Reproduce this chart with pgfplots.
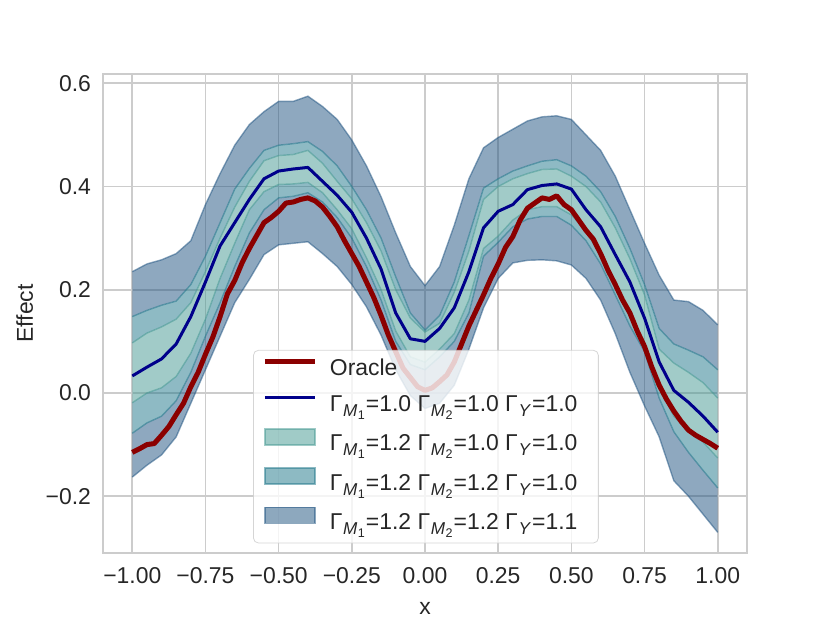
\documentclass[border=0pt]{standalone}
\usepackage{fontspec}
\setmainfont{Liberation Sans}
\usepackage{pgfplots}
\usepackage{pgfplotstable}
\pgfplotsset{compat=1.18}
\usepgfplotslibrary{fillbetween}

\definecolor{cOut}{HTML}{1D517F}
\definecolor{cMid}{HTML}{1D7589}
\definecolor{cIn}{HTML}{439791}
\definecolor{gridc}{HTML}{CCCCCC}
\definecolor{txt}{HTML}{262626}
\definecolor{oracle}{HTML}{8B0000}
\definecolor{bline}{HTML}{00008B}

\newcommand{\GM}[1]{Γ\kern0.03em\raisebox{-0.22em}{\fontsize{8.6}{9}\selectfont\textit{M}\kern0.02em\raisebox{-0.18em}{\fontsize{6.3}{7}\selectfont #1}}\kern0.05em}
\newcommand{\GY}{Γ\kern0.03em\raisebox{-0.22em}{\fontsize{8.6}{9}\selectfont\textit{Y}}\kern0.05em}

\pgfplotstableread{
x o
-1.000 -0.115
-0.975 -0.108
-0.950 -0.100
-0.925 -0.098
-0.900 -0.082
-0.875 -0.065
-0.850 -0.042
-0.825 -0.020
-0.800 0.012
-0.775 0.040
-0.750 0.075
-0.725 0.108
-0.700 0.148
-0.675 0.192
-0.650 0.218
-0.625 0.252
-0.600 0.280
-0.575 0.305
-0.550 0.330
-0.525 0.340
-0.500 0.352
-0.475 0.368
-0.450 0.370
-0.425 0.375
-0.400 0.378
-0.375 0.372
-0.350 0.360
-0.325 0.342
-0.300 0.322
-0.275 0.295
-0.250 0.270
-0.225 0.245
-0.200 0.215
-0.175 0.185
-0.150 0.150
-0.125 0.112
-0.100 0.080
-0.075 0.048
-0.050 0.030
-0.025 0.012
0.000 0.005
0.025 0.010
0.050 0.022
0.075 0.035
0.100 0.060
0.125 0.095
0.150 0.130
0.175 0.160
0.200 0.190
0.225 0.222
0.250 0.250
0.275 0.282
0.300 0.303
0.325 0.335
0.350 0.358
0.375 0.368
0.400 0.378
0.425 0.375
0.450 0.382
0.475 0.365
0.500 0.355
0.525 0.335
0.550 0.315
0.575 0.298
0.600 0.270
0.625 0.238
0.650 0.210
0.675 0.180
0.700 0.155
0.725 0.120
0.750 0.090
0.775 0.050
0.800 0.015
0.825 -0.012
0.850 -0.035
0.875 -0.055
0.900 -0.072
0.925 -0.082
0.950 -0.090
0.975 -0.098
1.000 -0.107
}\oracledata

\pgfplotstableread{
x b ou ol mu ml iu il
-1.00 0.033 0.235 -0.163 0.148 -0.078 0.097 -0.019
-0.95 0.050 0.250 -0.140 0.160 -0.058 0.116 0.000
-0.90 0.066 0.258 -0.120 0.170 -0.045 0.128 0.010
-0.85 0.095 0.270 -0.085 0.178 -0.015 0.143 0.032
-0.80 0.148 0.295 -0.020 0.210 0.040 0.175 0.077
-0.75 0.215 0.365 0.045 0.265 0.110 0.235 0.143
-0.70 0.285 0.425 0.110 0.330 0.175 0.300 0.222
-0.65 0.330 0.480 0.175 0.395 0.245 0.360 0.290
-0.60 0.375 0.520 0.220 0.435 0.310 0.410 0.355
-0.55 0.415 0.545 0.268 0.470 0.355 0.450 0.390
-0.50 0.430 0.565 0.287 0.480 0.378 0.460 0.404
-0.45 0.434 0.565 0.290 0.483 0.381 0.462 0.405
-0.40 0.437 0.575 0.293 0.487 0.388 0.470 0.408
-0.35 0.410 0.555 0.270 0.468 0.370 0.445 0.388
-0.30 0.383 0.530 0.245 0.440 0.340 0.410 0.355
-0.25 0.350 0.490 0.210 0.400 0.300 0.376 0.318
-0.20 0.300 0.440 0.167 0.355 0.245 0.330 0.262
-0.15 0.240 0.380 0.112 0.300 0.180 0.275 0.200
-0.10 0.155 0.310 0.045 0.225 0.100 0.200 0.120
-0.05 0.105 0.245 -0.005 0.155 0.055 0.145 0.070
0.00 0.100 0.208 -0.030 0.122 0.045 0.118 0.060
0.05 0.125 0.245 -0.020 0.150 0.070 0.135 0.085
0.10 0.165 0.325 0.015 0.215 0.100 0.195 0.115
0.15 0.235 0.415 0.085 0.305 0.155 0.275 0.180
0.20 0.320 0.475 0.165 0.397 0.265 0.375 0.280
0.25 0.352 0.495 0.222 0.415 0.292 0.400 0.304
0.30 0.365 0.511 0.252 0.430 0.322 0.415 0.335
0.35 0.394 0.527 0.257 0.440 0.337 0.425 0.355
0.40 0.402 0.535 0.258 0.449 0.342 0.433 0.361
0.45 0.405 0.537 0.256 0.452 0.342 0.434 0.361
0.50 0.395 0.530 0.248 0.440 0.325 0.420 0.345
0.55 0.355 0.500 0.222 0.420 0.295 0.400 0.315
0.60 0.322 0.470 0.180 0.390 0.250 0.370 0.265
0.65 0.268 0.420 0.115 0.342 0.190 0.320 0.215
0.70 0.215 0.355 0.040 0.280 0.130 0.260 0.150
0.75 0.145 0.290 -0.025 0.210 0.080 0.190 0.095
0.80 0.060 0.228 -0.085 0.125 -0.010 0.085 0.010
0.85 0.005 0.180 -0.170 0.095 -0.075 0.058 -0.045
0.90 -0.018 0.177 -0.200 0.083 -0.115 0.040 -0.075
0.95 -0.045 0.160 -0.235 0.070 -0.150 0.020 -0.095
1.00 -0.076 0.132 -0.270 0.045 -0.184 -0.010 -0.126
}\banddata

\begin{document}
\begin{tikzpicture}
\begin{axis}[
  at={(51.5bp,35bp)}, anchor=south west,
  scale only axis, width=322bp, height=239.5bp,
  xmin=-1.1, xmax=1.1, ymin=-0.310, ymax=0.618,
  xtick={-1,-0.75,-0.5,-0.25,0,0.25,0.5,0.75,1},
  xticklabels={−1.00,−0.75,−0.50,−0.25,0.00,0.25,0.50,0.75,1.00},
  ytick={-0.2,0,0.2,0.4,0.6},
  yticklabels={−0.2,0.0,0.2,0.4,0.6},
  major tick length=0pt,
  grid=major,
  major grid style={gridc, line width=0.8bp},
  axis line style={gridc, line width=0.8bp},
  tick label style={font=\fontsize{11.5}{13}\selectfont, text=txt},
  xticklabel style={yshift=-3.5bp},
  yticklabel style={xshift=-2.5bp},
  every axis x label/.style={at={(axis description cs:0.5,-0.1294)}, anchor=base, font=\fontsize{11.5}{13}\selectfont, text=txt},
  every axis y label/.style={at={(axis description cs:-0.1087,0.5)}, anchor=base, rotate=90, font=\fontsize{11.5}{13}\selectfont, text=txt},
  xlabel={x}, ylabel={Effect},
  legend cell align=left,
  legend style={at={(0.233,0.424)}, anchor=north west,
    fill=white, fill opacity=0.8, draw opacity=0.8, text opacity=1,
    draw=gridc, rounded corners=2.5bp,
    font=\fontsize{11.5}{13}\selectfont, text=txt,
    inner xsep=4.5bp, inner ysep=3.3bp, row sep=4.8bp,
    nodes={inner ysep=0bp, text height=9.5bp, text depth=3.5bp}},
]
\addplot[draw=none, name path=ou, forget plot] table[x=x,y=ou]{\banddata};
\addplot[draw=none, name path=ol, forget plot] table[x=x,y=ol]{\banddata};
\addplot[draw=none, name path=mu, forget plot] table[x=x,y=mu]{\banddata};
\addplot[draw=none, name path=ml, forget plot] table[x=x,y=ml]{\banddata};
\addplot[draw=none, name path=iu, forget plot] table[x=x,y=iu]{\banddata};
\addplot[draw=none, name path=il, forget plot] table[x=x,y=il]{\banddata};

\addplot[fill=cOut, fill opacity=0.5, draw=none, forget plot] fill between[of=ou and mu];
\addplot[fill=cOut, fill opacity=0.5, draw=none, forget plot] fill between[of=ml and ol];
\addplot[fill=cMid, fill opacity=0.5, draw=none, forget plot] fill between[of=mu and iu];
\addplot[fill=cMid, fill opacity=0.5, draw=none, forget plot] fill between[of=il and ml];
\addplot[fill=cIn, fill opacity=0.5, draw=none, forget plot] fill between[of=iu and il];

\addplot[cOut, draw opacity=0.5, line width=0.7bp, forget plot] table[x=x,y=ou]{\banddata};
\addplot[cOut, draw opacity=0.5, line width=0.7bp, forget plot] table[x=x,y=ol]{\banddata};
\addplot[cMid, draw opacity=0.5, line width=0.7bp, forget plot] table[x=x,y=mu]{\banddata};
\addplot[cMid, draw opacity=0.5, line width=0.7bp, forget plot] table[x=x,y=ml]{\banddata};
\addplot[cIn, draw opacity=0.5, line width=0.7bp, forget plot] table[x=x,y=iu]{\banddata};
\addplot[cIn, draw opacity=0.5, line width=0.7bp, forget plot] table[x=x,y=il]{\banddata};

\addplot[oracle, line width=2.5bp, line join=round, forget plot] table[x=x,y=o]{\oracledata};
\addplot[bline, line width=1.5bp, line join=round, forget plot] table[x=x,y=b]{\banddata};

\addlegendimage{legend image code/.code={\draw[oracle, draw opacity=1, line width=2.5bp, sharp corners] (0bp,4bp) -- (25bp,4bp); \path (30.3bp,0bp);}}
\addlegendentry{Oracle}
\addlegendimage{legend image code/.code={\draw[bline, draw opacity=1, line width=1.5bp, sharp corners] (0bp,4bp) -- (25bp,4bp); \path (30.3bp,0bp);}}
\addlegendentry{\GM{1}=1.0 \GM{2}=1.0 \GY=1.0\kern4bp}
\addlegendimage{legend image code/.code={\draw[sharp corners, fill=cIn, fill opacity=0.5, draw=cIn, draw opacity=0.5, line width=0.7bp] (0bp,0bp) rectangle (25bp,8bp); \path (30.3bp,0bp);}}
\addlegendentry{\GM{1}=1.2 \GM{2}=1.0 \GY=1.0\kern4bp}
\addlegendimage{legend image code/.code={\draw[sharp corners, fill=cMid, fill opacity=0.5, draw=cMid, draw opacity=0.5, line width=0.7bp] (0bp,0bp) rectangle (25bp,8bp); \path (30.3bp,0bp);}}
\addlegendentry{\GM{1}=1.2 \GM{2}=1.2 \GY=1.0\kern4bp}
\addlegendimage{legend image code/.code={\draw[sharp corners, fill=cOut, fill opacity=0.5, draw=cOut, draw opacity=0.5, line width=0.7bp] (0bp,0bp) rectangle (25bp,8bp); \path (30.3bp,0bp);}}
\addlegendentry{\GM{1}=1.2 \GM{2}=1.2 \GY=1.1\kern4bp}
\end{axis}
\pgfresetboundingbox
\useasboundingbox (0,0) rectangle (415bp,311.5bp);
\end{tikzpicture}
\end{document}
